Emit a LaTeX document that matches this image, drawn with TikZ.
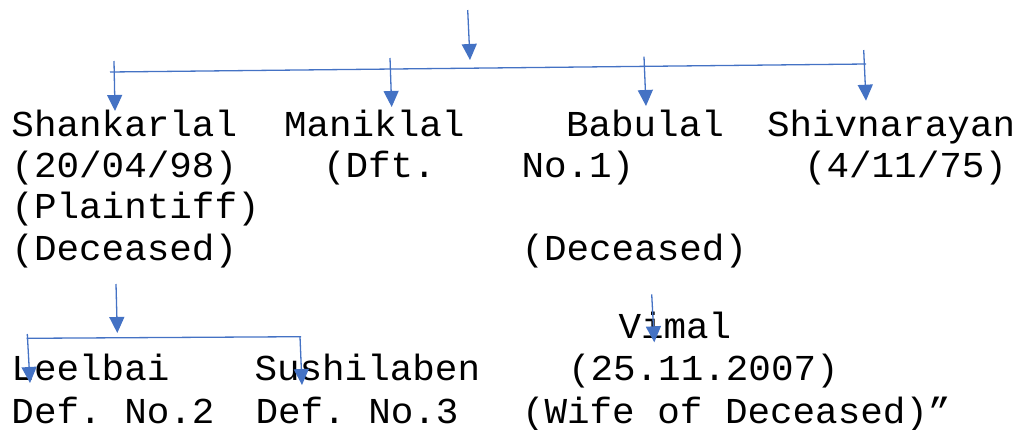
\documentclass[tikz,border=0pt]{standalone}
\usepackage{fontspec}
\setmonofont{Liberation Mono}
\usetikzlibrary{arrows.meta}
\definecolor{arrowblue}{HTML}{4472C4}
\begin{document}
\begin{tikzpicture}[x=1pt,y=-1pt,
  lbl/.style={anchor=base west, inner sep=0pt, outer sep=0pt,
    font=\ttfamily\fontsize{36.5}{41}\selectfont, xscale=1.03},
  conn/.style={draw=arrowblue, line width=1.3pt},
  arr/.style={conn, -{Triangle[width=15pt,length=16pt]}}]
\useasboundingbox (0,0) rectangle (1023,429);
% texts
\node[lbl] (shank)  at (11.5,136)  {Shankarlal};
\node[lbl] (shankd) at (11.5,177)  {(20/04/98)};
\node[lbl] (shankp) at (11.5,218)  {(Plaintiff)};
\node[lbl] (shankc) at (11.5,260)  {(Deceased)};
\node[lbl] (manik)  at (284,136)   {Maniklal};
\node[lbl] (dft)    at (323,177)   {(Dft.};
\node[lbl] (no1)    at (521.5,177) {No.1)};
\node[lbl] (babu)   at (566,136)   {Babulal};
\node[lbl] (babuc)  at (521.5,260) {(Deceased)};
\node[lbl] (shiv)   at (767,136)   {Shivnarayan};
\node[lbl] (shivd)  at (804,177)   {(4/11/75)};
\node[lbl] (vimal)  at (618.5,338) {Vimal};
\node[lbl] (vimald) at (568,380)   {(25.11.2007)};
\node[lbl] (vimalw) at (522,423)   {(Wife of Deceased)”};
\node[lbl] (leel)   at (11.5,380)  {Leelbai};
\node[lbl] (leeld)  at (11.5,423)  {Def. No.2};
\node[lbl] (sush)   at (254.5,380) {Sushilaben};
\node[lbl] (sushd)  at (255.5,423) {Def. No.3};
% connector points
\coordinate (top0) at (467.7,10);   \coordinate (top1) at (470,60);
\coordinate (hl) at (110,72);       \coordinate (hr) at (866,64);
\coordinate (a1s) at (114,61);      \coordinate (a1e) at (115,111);
\coordinate (a2s) at (390,58);      \coordinate (a2e) at (391.7,107);
\coordinate (a3s) at (644,56.7);    \coordinate (a3e) at (646,106);
\coordinate (a4s) at (863.7,50);    \coordinate (a4e) at (866,100.7);
\coordinate (a5s) at (116,284);     \coordinate (a5e) at (117.3,333);
\coordinate (gl) at (26.7,338.3);   \coordinate (gr) at (301,336.7);
\coordinate (a6s) at (27.3,334);    \coordinate (a6e) at (30,383);
\coordinate (a7s) at (300,336.7);   \coordinate (a7e) at (302,385);
\coordinate (a8s) at (651.7,294.3); \coordinate (a8e) at (654.3,342.3);
% connectors
\draw[arr] (top0) -- (top1);
\draw[conn] (hl) -- (hr);
\draw[arr] (a1s) -- (a1e);
\draw[arr] (a2s) -- (a2e);
\draw[arr] (a3s) -- (a3e);
\draw[arr] (a4s) -- (a4e);
\draw[arr] (a5s) -- (a5e);
\draw[conn] (gl) -- (gr);
\draw[arr] (a6s) -- (a6e);
\draw[arr] (a7s) -- (a7e);
\draw[arr] (a8s) -- (a8e);
\end{tikzpicture}
\end{document}
